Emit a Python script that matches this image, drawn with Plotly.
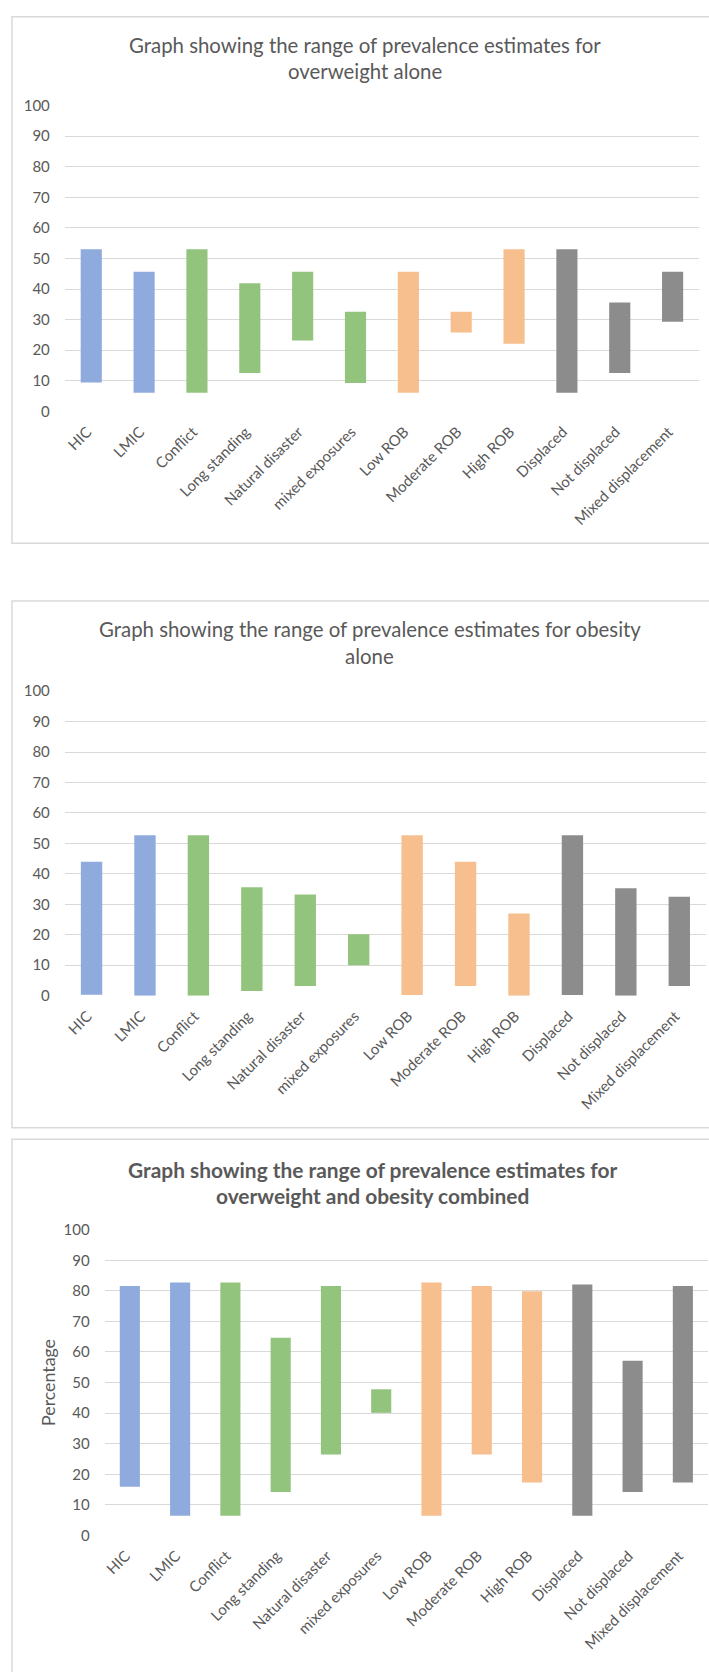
import plotly.graph_objects as go

# Subgroup categories shown on every panel
categories = ["HIC", "LMIC", "Conflict", "Long standing", "Natural disaster",
              "mixed exposures", "Low ROB", "Moderate ROB", "High ROB",
              "Displaced", "Not displaced", "Mixed displacement"]

# Range of prevalence estimates (%) per subgroup: lowest and highest study value
overweight_low = [9.4, 6.1, 6.1, 12.5, 23.2, 9.3, 6.1, 25.8, 22.1, 6.1, 12.5, 29.3]
overweight_high = [53.0, 45.7, 53.0, 41.9, 45.7, 32.6, 45.7, 32.6, 53.0, 53.0, 35.6, 45.7]

obesity_low = [0.3, 0.0, 0.0, 1.5, 3.2, 10.0, 0.2, 3.2, 0.0, 0.2, 0.0, 3.2]
obesity_high = [44.0, 52.7, 52.7, 35.6, 33.2, 20.2, 52.7, 44.0, 27.0, 52.7, 35.3, 32.5]

combined_low = [15.9, 6.4, 6.4, 14.2, 26.5, 40.1, 6.4, 26.5, 17.3, 6.4, 14.2, 17.3]
combined_high = [81.6, 82.7, 82.7, 64.7, 81.6, 47.8, 82.7, 81.6, 79.9, 82.1, 57.1, 81.6]

y_ticks = list(range(0, 101, 10))

panel_titles = [
    ("Graph showing the range of prevalence estimates for", "overweight alone", False),
    ("Graph showing the range of prevalence estimates for obesity", "alone", False),
    ("Graph showing the range of prevalence estimates for", "overweight and obesity combined", True),
]

# Colour groups: income level, exposure type, risk of bias, displacement status
BLUE, GREEN, ORANGE, GREY = "#8FAADC", "#93C47D", "#F7BE8E", "#8C8C8C"
bar_colors = [BLUE, BLUE, GREEN, GREEN, GREEN, GREEN,
              ORANGE, ORANGE, ORANGE, GREY, GREY, GREY]

W, H = 709, 1672
FONT = "Lato"
TEXT = "#595959"
GRID = "#D9D9D9"


def px_x(v):
    return v / W


def px_y(v):
    return 1 - v / H


# Pixel layout of each panel: plot area (x0, x1, y_top, y_bottom), title rows, frame
panels = [
    dict(low=overweight_low, high=overweight_high,
         area=(63, 699, 96.7, 405.7), title_y=(35, 61.5), title_x=364,
         frame=(10, 6.7, 539)),
    dict(low=obesity_low, high=obesity_high,
         area=(63, 706, 688.6, 996.4), title_y=(626, 653), title_x=369,
         frame=(10, 597.5, 1130)),
    dict(low=combined_low, high=combined_high,
         area=(103, 708, 1233, 1542), title_y=(1172, 1198), title_x=372,
         frame=(10, 1141.5, 1700)),
]

fig = go.Figure()
layout = dict(
    width=W, height=H,
    margin=dict(l=0, r=0, t=0, b=0),
    paper_bgcolor="white", plot_bgcolor="white",
    showlegend=False,
    bargap=0.6,
    font=dict(family=FONT, color=TEXT),
)
annotations = []
shapes = []

for i, p in enumerate(panels, start=1):
    suffix = "" if i == 1 else str(i)
    spans = [h - l for l, h in zip(p["low"], p["high"])]
    fig.add_trace(go.Bar(
        x=categories, y=spans, base=p["low"],
        marker=dict(color=bar_colors, line=dict(width=0)),
        xaxis="x" + suffix, yaxis="y" + suffix,
        hovertemplate="%{x}: %{base:.1f}–%{customdata:.1f}%<extra></extra>",
        customdata=p["high"],
    ))
    x0, x1, yt, yb = p["area"]
    layout["xaxis" + suffix] = dict(
        domain=[px_x(x0), px_x(x1)], anchor="y" + suffix,
        tickangle=-45, tickfont=dict(family=FONT, size=15, color=TEXT),
        showgrid=False, showline=False, zeroline=False, ticks="",
        ticklabelstandoff=8, ticklabelshift=-4, fixedrange=True,
    )
    layout["yaxis" + suffix] = dict(
        domain=[px_y(yb), px_y(yt)], anchor="x" + suffix,
        range=[0, 100], tickvals=y_ticks,
        tickfont=dict(family=FONT, size=15, color=TEXT),
        showgrid=True, gridcolor=GRID, gridwidth=1.3,
        zeroline=False, showline=False, ticks="",
        ticklabelstandoff=14, fixedrange=True,
    )
    line1, line2, bold = panel_titles[i - 1]
    for text, ty in zip((line1, line2), p["title_y"]):
        annotations.append(dict(
            text=f"<b>{text}</b>" if bold else text,
            x=px_x(p["title_x"]), y=px_y(ty), xref="paper", yref="paper",
            xanchor="center", yanchor="middle", showarrow=False,
            font=dict(family=FONT, size=20.9 if bold else 20.4, color=TEXT),
        ))
    fx0, fy0, fy1 = p["frame"]
    shapes.append(dict(
        type="rect", xref="paper", yref="paper",
        x0=px_x(fx0), x1=px_x(W + 10), y0=px_y(fy1), y1=px_y(fy0),
        line=dict(color=GRID, width=1.5), fillcolor="rgba(0,0,0,0)",
        layer="below",
    ))

annotations.append(dict(
    text="Percentage", textangle=-90,
    x=px_x(46), y=px_y(1387), xref="paper", yref="paper",
    xanchor="center", yanchor="middle", showarrow=False,
    font=dict(family=FONT, size=17.8, color=TEXT),
))

layout["annotations"] = annotations
layout["shapes"] = shapes
fig.update_layout(**layout)

fig.write_html("out.html")
